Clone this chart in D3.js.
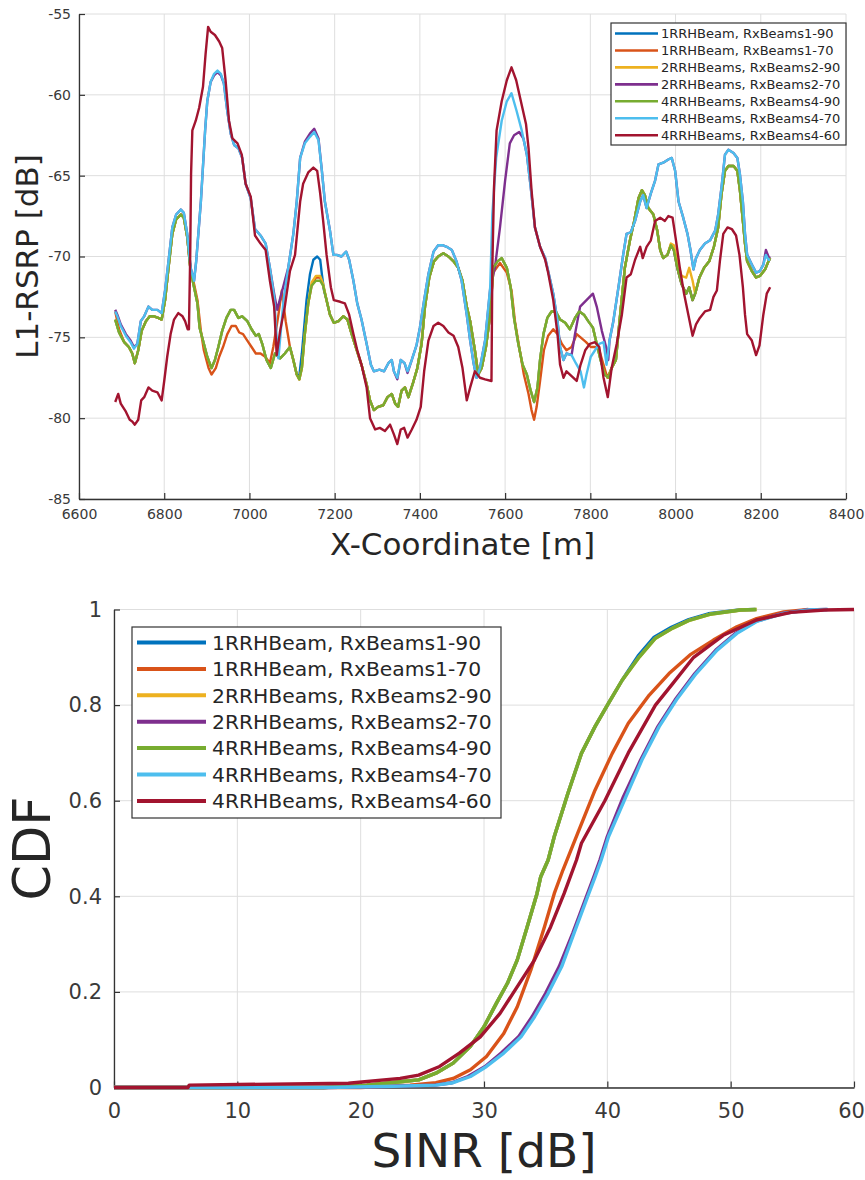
<!DOCTYPE html>
<html>
<head>
<meta charset="utf-8">
<script src="https://cdn.jsdelivr.net/npm/d3@7"></script>
<style>
  body { margin: 0; background: #fff; }
  svg { display: block; font-family: "DejaVu Sans", sans-serif; }
</style>
</head>
<body>
<svg id="chart" width="865" height="1180"></svg>
<script>
// legend names, in MATLAB plot order
var seriesNames = ["1RRHBeam, RxBeams1-90", "1RRHBeam, RxBeams1-70", "2RRHBeams, RxBeams2-90",
  "2RRHBeams, RxBeams2-70", "4RRHBeams, RxBeams4-90", "4RRHBeams, RxBeams4-70", "4RRHBeams, RxBeams4-60"];
var seriesColors = ["#0072BD", "#D95319", "#EDB120", "#7E2F8E", "#77AC30", "#4DBEEE", "#A2142F"];

// tick labels
var xTicksRsrp = [6600, 6800, 7000, 7200, 7400, 7600, 7800, 8000, 8200, 8400];
var yTicksRsrp = [-85, -80, -75, -70, -65, -60, -55];
var xTicksCdf = [0, 10, 20, 30, 40, 50, 60];
var yTicksCdf = [0, 0.2, 0.4, 0.6, 0.8, 1];

// L1-RSRP [dB] against X-coordinate [m]
var rsrpBeam4_90 = [[6685,-73.9],[6694,-74.7],[6706,-75.3],[6717,-75.6],[6725,-76.0],[6731,-76.6],[6739,-75.8],[6747,-74.6],[6757,-74.0],[6766,-73.7],[6776,-73.7],[6786,-73.8],[6794,-73.9],[6802,-72.7],[6810,-70.7],[6819,-68.6],[6828,-67.7],[6839,-67.4],[6846,-67.6],[6854,-68.8],[6862,-70.9],[6870,-71.9],[6878,-72.9],[6883,-74.4],[6891,-75.2],[6901,-76.2],[6911,-76.9],[6919,-76.4],[6927,-75.6],[6936,-74.6],[6946,-73.8],[6956,-73.3],[6964,-73.3],[6974,-73.8],[6983,-73.7],[6995,-74.0],[7005,-74.5],[7015,-74.9],[7022,-74.8],[7030,-75.4],[7040,-76.4],[7050,-76.9],[7060,-76.0],[7072,-76.3],[7083,-76.0],[7095,-75.6],[7103,-76.4],[7111,-77.3],[7117,-77.6],[7123,-76.9],[7130,-74.8],[7138,-72.9],[7146,-71.8],[7156,-71.5],[7166,-71.5],[7173,-71.8],[7181,-72.7],[7189,-73.6],[7198,-74.1],[7209,-74.0],[7220,-73.7],[7230,-73.9],[7240,-74.8],[7252,-75.8],[7263,-76.7],[7275,-77.9],[7283,-78.9],[7292,-79.5],[7302,-79.3],[7314,-79.2],[7324,-78.7],[7334,-78.5],[7342,-79.1],[7349,-79.3],[7357,-78.3],[7365,-78.1],[7373,-78.7],[7383,-77.9],[7394,-76.9],[7404,-75.4],[7412,-73.1],[7422,-71.3],[7433,-70.3],[7443,-70.0],[7455,-69.8],[7467,-70.0],[7479,-70.3],[7490,-70.7],[7500,-71.5],[7510,-73.1],[7518,-74.0],[7529,-75.8],[7537,-77.3],[7545,-76.9],[7555,-75.6],[7565,-73.6],[7572,-70.7],[7582,-70.3],[7592,-70.1],[7604,-70.7],[7613,-71.9],[7621,-73.8],[7631,-75.4],[7641,-76.7],[7651,-77.3],[7660,-78.3],[7668,-79.0],[7676,-78.1],[7682,-76.4],[7690,-74.8],[7699,-73.8],[7709,-73.4],[7719,-73.4],[7729,-73.9],[7741,-74.1],[7752,-74.5],[7764,-73.8],[7774,-73.4],[7785,-73.6],[7795,-74.0],[7806,-74.4],[7815,-75.4],[7824,-76.4],[7834,-77.3],[7842,-77.5],[7850,-76.9],[7860,-76.4],[7870,-73.6],[7881,-70.7],[7893,-69.0],[7903,-67.8],[7913,-66.4],[7921,-65.9],[7928,-66.2],[7936,-67.0],[7948,-67.4],[7957,-68.4],[7964,-69.6],[7971,-70.1],[7981,-69.9],[7989,-69.3],[7996,-69.6],[8004,-70.7],[8014,-71.7],[8025,-72.3],[8032,-71.9],[8040,-72.7],[8046,-72.3],[8056,-71.3],[8067,-70.7],[8079,-70.3],[8090,-69.4],[8100,-68.2],[8108,-66.1],[8116,-64.7],[8124,-64.4],[8136,-64.4],[8145,-64.7],[8151,-65.9],[8158,-67.8],[8163,-69.2],[8168,-70.3],[8179,-70.9],[8189,-71.3],[8198,-71.2],[8210,-70.8],[8218,-70.3],[8222,-70.1]];

var rsrpBeam1_90 = [[6685,-73.9],[6694,-74.7],[6706,-75.3],[6717,-75.6],[6725,-76.0],[6731,-76.6],[6739,-75.8],[6747,-74.6],[6757,-74.0],[6766,-73.7],[6776,-73.7],[6786,-73.8],[6794,-73.9],[6802,-72.7],[6810,-70.7],[6819,-68.6],[6828,-67.7],[6839,-67.4],[6846,-67.6],[6854,-68.8],[6862,-70.9],[6870,-71.9],[6878,-72.9],[6883,-74.4],[6891,-75.2],[6901,-76.2],[6911,-76.9],[6919,-76.4],[6927,-75.6],[6936,-74.6],[6946,-73.8],[6956,-73.3],[6964,-73.3],[6974,-73.8],[6983,-73.7],[6995,-74.0],[7005,-74.5],[7015,-74.9],[7022,-74.8],[7030,-75.4],[7040,-76.4],[7050,-76.9],[7060,-76.0],[7072,-76.3],[7083,-76.0],[7095,-75.6],[7103,-76.4],[7111,-77.3],[7117,-77.4],[7123,-76.0],[7127,-74.8],[7134,-72.7],[7142,-71.1],[7150,-70.2],[7159,-70.0],[7166,-70.2],[7170,-71.1],[7175,-72.1],[7181,-72.7],[7189,-73.6],[7198,-74.1],[7209,-74.0],[7220,-73.7],[7230,-73.9],[7240,-74.8],[7252,-75.8],[7263,-76.7],[7275,-77.9],[7283,-78.9],[7292,-79.5],[7302,-79.3],[7314,-79.2],[7324,-78.7],[7334,-78.5],[7342,-79.1],[7349,-79.3],[7357,-78.3],[7365,-78.1],[7373,-78.7],[7383,-77.9],[7394,-76.9],[7404,-75.4],[7412,-73.1],[7422,-71.3],[7433,-70.3],[7443,-70.0],[7455,-69.8],[7467,-70.0],[7479,-70.3],[7490,-70.7],[7500,-71.5],[7510,-73.1],[7518,-74.0],[7529,-75.8],[7537,-77.3],[7545,-76.9],[7555,-75.6],[7565,-73.6],[7572,-70.7],[7582,-70.3],[7592,-70.1],[7604,-70.7],[7613,-71.9],[7621,-73.8],[7631,-75.4],[7641,-76.7],[7651,-77.3],[7660,-78.3],[7668,-79.0],[7676,-78.1],[7682,-76.4],[7690,-74.8],[7699,-73.8],[7709,-73.4],[7719,-73.4],[7729,-73.9],[7741,-74.1],[7752,-74.5],[7764,-73.8],[7774,-73.4],[7785,-73.6],[7795,-74.0],[7806,-74.4],[7815,-75.4],[7824,-76.4],[7834,-77.3],[7842,-77.5],[7850,-76.9],[7860,-76.4],[7870,-73.6],[7881,-70.7],[7893,-69.0],[7903,-67.8],[7913,-66.4],[7921,-65.9],[7928,-66.2],[7936,-67.0],[7948,-67.4],[7957,-68.4],[7964,-69.6],[7971,-70.1],[7981,-69.9],[7989,-69.3],[7996,-69.6],[8004,-70.7],[8014,-71.7],[8025,-72.3],[8032,-71.9],[8040,-72.7],[8046,-72.3],[8056,-71.3],[8067,-70.7],[8079,-70.3],[8090,-69.4],[8100,-68.2],[8108,-66.1],[8116,-64.7],[8124,-64.4],[8136,-64.4],[8145,-64.7],[8151,-65.9],[8158,-67.8],[8163,-69.2],[8168,-70.3],[8179,-70.9],[8189,-71.3],[8198,-71.2],[8210,-70.8],[8218,-70.3],[8222,-70.1]];

var rsrpBeam1_70 = [[6685,-73.4],[6694,-74.5],[6706,-75.3],[6717,-75.6],[6725,-76.0],[6731,-76.6],[6739,-75.8],[6747,-74.6],[6757,-74.0],[6766,-73.7],[6776,-73.7],[6786,-73.8],[6794,-73.9],[6802,-72.7],[6810,-70.7],[6819,-68.6],[6828,-67.7],[6839,-67.4],[6846,-67.6],[6854,-68.8],[6862,-70.9],[6870,-71.7],[6878,-72.7],[6886,-74.6],[6893,-75.8],[6904,-76.9],[6911,-77.3],[6921,-76.9],[6929,-76.2],[6938,-75.6],[6948,-74.8],[6958,-74.3],[6968,-74.3],[6976,-74.7],[6985,-74.8],[6995,-75.2],[7005,-75.6],[7015,-76.0],[7026,-76.0],[7037,-76.2],[7048,-76.6],[7056,-75.6],[7068,-73.6],[7076,-72.1],[7085,-74.0],[7095,-75.6],[7103,-76.4],[7111,-77.3],[7117,-77.6],[7123,-76.9],[7130,-74.8],[7138,-72.9],[7146,-71.8],[7156,-71.3],[7166,-71.3],[7173,-71.8],[7181,-72.7],[7189,-73.6],[7198,-74.1],[7209,-74.0],[7220,-73.7],[7230,-73.9],[7240,-74.8],[7252,-75.8],[7263,-76.7],[7275,-77.9],[7283,-78.9],[7292,-79.5],[7302,-79.3],[7314,-79.2],[7324,-78.7],[7334,-78.5],[7342,-79.1],[7349,-79.3],[7357,-78.3],[7365,-78.1],[7373,-78.7],[7383,-77.9],[7394,-76.9],[7404,-75.4],[7412,-73.1],[7422,-71.3],[7433,-70.3],[7443,-70.0],[7455,-69.8],[7467,-70.0],[7479,-70.3],[7490,-70.7],[7500,-71.5],[7510,-73.1],[7518,-74.0],[7529,-75.8],[7537,-77.3],[7545,-76.9],[7555,-75.6],[7565,-73.6],[7572,-71.0],[7588,-70.4],[7604,-71.0],[7615,-72.1],[7623,-74.0],[7633,-75.6],[7644,-77.3],[7655,-78.5],[7662,-79.5],[7668,-80.1],[7674,-79.3],[7682,-77.7],[7691,-75.8],[7701,-74.9],[7713,-74.5],[7723,-74.8],[7733,-75.4],[7744,-75.8],[7756,-75.6],[7768,-74.8],[7777,-75.0],[7790,-75.3],[7801,-75.6],[7811,-75.6],[7821,-75.8],[7831,-76.7],[7840,-77.5],[7850,-76.9],[7860,-76.4],[7870,-73.6],[7881,-70.7],[7893,-69.0],[7903,-67.8],[7913,-66.4],[7921,-65.9],[7928,-66.2],[7936,-67.0],[7948,-67.4],[7957,-68.4],[7964,-69.6],[7971,-70.1],[7981,-69.9],[7989,-69.3],[7996,-69.6],[8004,-70.7],[8014,-71.7],[8025,-72.3],[8032,-71.9],[8040,-72.7],[8046,-72.3],[8056,-71.3],[8067,-70.7],[8079,-70.3],[8090,-69.4],[8100,-68.2],[8108,-66.1],[8116,-64.7],[8124,-64.4],[8136,-64.4],[8145,-64.7],[8151,-65.9],[8158,-67.8],[8163,-69.2],[8168,-70.3],[8179,-70.9],[8189,-71.3],[8198,-71.2],[8210,-70.8],[8218,-70.3],[8222,-70.1]];

var rsrpBeam2_90 = [[6685,-73.9],[6694,-74.7],[6706,-75.3],[6717,-75.6],[6725,-76.0],[6731,-76.6],[6739,-75.8],[6747,-74.6],[6757,-74.0],[6766,-73.7],[6776,-73.7],[6786,-73.8],[6794,-73.9],[6802,-72.7],[6810,-70.7],[6819,-68.6],[6828,-67.7],[6839,-67.4],[6846,-67.6],[6854,-68.8],[6862,-70.9],[6870,-71.9],[6878,-72.9],[6883,-74.4],[6891,-75.2],[6901,-76.2],[6911,-76.9],[6919,-76.4],[6927,-75.6],[6936,-74.6],[6946,-73.8],[6956,-73.3],[6964,-73.3],[6974,-73.8],[6983,-73.7],[6995,-74.0],[7005,-74.5],[7015,-74.9],[7022,-74.8],[7030,-75.4],[7040,-76.4],[7050,-76.9],[7060,-76.0],[7072,-76.3],[7083,-76.0],[7095,-75.6],[7103,-76.4],[7111,-77.3],[7117,-77.6],[7123,-76.9],[7130,-74.8],[7138,-72.9],[7146,-71.6],[7156,-71.2],[7166,-71.2],[7173,-71.7],[7181,-72.7],[7189,-73.6],[7198,-74.1],[7209,-74.0],[7220,-73.7],[7230,-73.9],[7240,-74.8],[7252,-75.8],[7263,-76.7],[7275,-77.9],[7283,-78.9],[7292,-79.5],[7302,-79.3],[7314,-79.2],[7324,-78.7],[7334,-78.5],[7342,-79.1],[7349,-79.3],[7357,-78.3],[7365,-78.1],[7373,-78.7],[7383,-77.9],[7394,-76.9],[7404,-75.4],[7412,-73.1],[7422,-71.3],[7433,-70.3],[7443,-70.0],[7455,-69.8],[7467,-70.0],[7479,-70.3],[7490,-70.7],[7500,-71.5],[7510,-73.1],[7518,-74.0],[7529,-75.8],[7537,-77.3],[7545,-76.9],[7555,-75.6],[7565,-73.6],[7572,-70.7],[7582,-70.3],[7592,-70.1],[7604,-70.7],[7613,-71.9],[7621,-73.8],[7631,-75.4],[7641,-76.7],[7651,-77.3],[7660,-78.3],[7668,-79.0],[7676,-78.1],[7682,-76.4],[7690,-74.8],[7699,-73.8],[7709,-73.4],[7719,-73.4],[7729,-73.9],[7741,-74.1],[7752,-74.5],[7764,-73.8],[7774,-73.4],[7785,-73.6],[7795,-74.0],[7806,-74.4],[7815,-75.4],[7824,-76.4],[7834,-77.3],[7842,-77.5],[7850,-76.9],[7860,-76.4],[7870,-73.6],[7881,-70.7],[7893,-69.0],[7903,-67.8],[7913,-66.4],[7921,-65.9],[7928,-66.2],[7936,-67.0],[7948,-67.4],[7957,-68.4],[7964,-69.6],[7971,-70.1],[7981,-69.9],[7989,-69.2],[7996,-69.3],[8004,-70.3],[8014,-71.2],[8025,-71.3],[8032,-70.7],[8040,-71.5],[8046,-72.3],[8056,-71.3],[8067,-70.7],[8079,-70.3],[8090,-69.4],[8100,-68.2],[8108,-66.1],[8116,-64.7],[8124,-64.4],[8136,-64.4],[8145,-64.7],[8151,-65.9],[8158,-67.8],[8163,-69.2],[8168,-70.3],[8179,-70.9],[8189,-71.3],[8198,-71.2],[8210,-70.8],[8218,-70.3],[8222,-70.1]];

var rsrpBeam4_70 = [[6685,-73.4],[6690,-73.7],[6698,-74.3],[6710,-74.9],[6721,-75.3],[6729,-75.7],[6737,-75.4],[6745,-74.0],[6753,-73.7],[6763,-73.1],[6772,-73.3],[6784,-73.3],[6794,-73.5],[6802,-72.1],[6810,-70.3],[6819,-68.2],[6828,-67.4],[6839,-67.1],[6846,-67.3],[6854,-68.6],[6862,-70.7],[6870,-71.5],[6875,-70.3],[6886,-66.6],[6896,-62.2],[6901,-60.4],[6909,-59.2],[6917,-58.7],[6925,-58.5],[6933,-58.7],[6940,-59.3],[6948,-61.0],[6956,-62.4],[6964,-63.1],[6974,-63.3],[6983,-63.9],[6991,-65.5],[7003,-66.4],[7013,-68.3],[7026,-68.7],[7038,-69.2],[7048,-70.7],[7058,-72.5],[7064,-75.0],[7068,-76.3],[7074,-74.5],[7080,-72.7],[7091,-70.7],[7103,-68.6],[7111,-66.6],[7119,-63.9],[7130,-63.0],[7142,-62.6],[7152,-62.3],[7162,-62.8],[7170,-64.7],[7177,-66.6],[7189,-68.4],[7197,-69.9],[7205,-69.9],[7216,-70.0],[7227,-69.7],[7234,-70.2],[7244,-71.5],[7253,-72.9],[7263,-73.9],[7275,-75.4],[7285,-76.7],[7292,-77.1],[7305,-77.0],[7316,-77.1],[7326,-76.6],[7334,-76.4],[7339,-77.1],[7347,-77.5],[7355,-76.4],[7364,-76.6],[7371,-77.1],[7381,-76.4],[7392,-75.5],[7400,-74.4],[7410,-72.7],[7420,-71.1],[7432,-69.7],[7443,-69.3],[7453,-69.3],[7463,-69.4],[7475,-69.6],[7486,-70.3],[7498,-71.5],[7510,-73.6],[7518,-75.2],[7526,-76.6],[7533,-77.5],[7541,-76.9],[7553,-75.2],[7565,-71.9],[7570,-67.4],[7579,-63.9],[7592,-61.6],[7604,-60.4],[7615,-59.9],[7627,-61.0],[7639,-62.2],[7651,-63.7],[7660,-65.7],[7670,-68.2],[7682,-69.4],[7694,-70.1],[7701,-70.9],[7713,-72.3],[7723,-74.0],[7729,-75.6],[7737,-76.4],[7744,-76.0],[7756,-76.1],[7766,-76.6],[7777,-77.1],[7785,-78.1],[7791,-77.3],[7801,-76.2],[7811,-75.8],[7821,-75.4],[7831,-75.3],[7838,-76.7],[7845,-75.2],[7854,-74.0],[7866,-71.9],[7877,-69.9],[7885,-68.6],[7895,-68.5],[7905,-67.8],[7917,-66.6],[7924,-66.2],[7932,-67.0],[7942,-66.1],[7952,-65.3],[7960,-64.3],[7971,-64.2],[7983,-64.0],[7991,-63.9],[7999,-64.7],[8007,-66.6],[8018,-67.6],[8028,-68.6],[8035,-69.6],[8042,-70.8],[8048,-70.1],[8057,-69.6],[8069,-69.2],[8081,-69.0],[8093,-68.4],[8100,-67.4],[8108,-65.7],[8116,-63.7],[8124,-63.4],[8136,-63.6],[8145,-63.9],[8151,-64.9],[8158,-66.6],[8163,-68.6],[8168,-69.9],[8179,-70.5],[8189,-71.0],[8198,-70.9],[8206,-70.5],[8212,-69.9],[8218,-70.2],[8222,-70.2]];

var rsrpBeam2_70 = [[6685,-73.3],[6690,-73.6],[6698,-74.2],[6710,-74.8],[6721,-75.2],[6729,-75.6],[6737,-75.4],[6745,-74.0],[6753,-73.7],[6763,-73.1],[6772,-73.3],[6784,-73.3],[6794,-73.5],[6802,-72.1],[6810,-70.3],[6819,-68.2],[6828,-67.4],[6839,-67.1],[6846,-67.3],[6854,-68.6],[6862,-70.7],[6870,-71.5],[6875,-70.3],[6886,-66.6],[6896,-62.2],[6901,-60.4],[6909,-59.2],[6917,-58.8],[6925,-58.6],[6933,-58.8],[6940,-59.3],[6948,-61.0],[6956,-62.4],[6964,-63.1],[6974,-63.3],[6983,-63.9],[6991,-65.5],[7003,-66.4],[7013,-68.3],[7026,-68.7],[7038,-69.2],[7048,-70.7],[7058,-72.3],[7065,-73.3],[7072,-72.6],[7080,-71.8],[7091,-70.7],[7103,-68.6],[7111,-66.6],[7119,-63.9],[7130,-62.9],[7142,-62.4],[7152,-62.1],[7162,-62.7],[7170,-64.7],[7177,-66.6],[7189,-68.4],[7197,-69.9],[7205,-69.9],[7216,-70.0],[7227,-69.7],[7234,-70.2],[7244,-71.5],[7253,-72.9],[7263,-73.9],[7275,-75.4],[7285,-76.7],[7292,-77.1],[7305,-77.0],[7316,-77.1],[7326,-76.6],[7334,-76.4],[7339,-77.1],[7347,-77.6],[7355,-76.4],[7364,-76.6],[7371,-77.2],[7381,-76.4],[7392,-75.5],[7400,-74.4],[7410,-72.7],[7420,-71.1],[7432,-69.7],[7443,-69.3],[7453,-69.3],[7463,-69.4],[7475,-69.6],[7486,-70.3],[7498,-71.5],[7510,-73.6],[7518,-75.2],[7526,-76.6],[7533,-77.5],[7541,-76.9],[7553,-75.2],[7565,-72.0],[7576,-70.7],[7588,-68.2],[7600,-65.3],[7611,-63.0],[7621,-62.5],[7633,-62.3],[7643,-62.7],[7651,-63.7],[7660,-65.7],[7670,-68.2],[7682,-69.4],[7694,-70.1],[7701,-70.9],[7713,-72.3],[7723,-74.0],[7729,-75.6],[7737,-76.4],[7744,-76.0],[7756,-76.1],[7764,-74.8],[7776,-73.1],[7791,-72.7],[7806,-72.3],[7815,-73.1],[7827,-74.6],[7837,-75.6],[7842,-76.4],[7845,-75.2],[7854,-74.0],[7866,-71.9],[7877,-69.9],[7885,-68.6],[7895,-68.5],[7905,-67.8],[7917,-66.6],[7924,-66.2],[7932,-67.0],[7942,-66.1],[7952,-65.3],[7960,-64.3],[7971,-64.2],[7983,-64.0],[7991,-63.9],[7999,-64.7],[8007,-66.6],[8018,-67.6],[8028,-68.6],[8035,-69.6],[8042,-70.8],[8048,-70.1],[8057,-69.6],[8069,-69.2],[8081,-69.0],[8093,-68.4],[8100,-67.4],[8108,-65.7],[8116,-63.7],[8124,-63.4],[8136,-63.6],[8145,-63.9],[8151,-64.9],[8158,-66.6],[8163,-68.6],[8168,-69.9],[8179,-70.5],[8189,-71.0],[8198,-70.9],[8206,-70.5],[8212,-69.6],[8218,-70.0],[8222,-70.1]];

var rsrpBeam4_60 = [[6685,-79.0],[6692,-78.5],[6698,-79.1],[6710,-79.6],[6719,-80.1],[6725,-80.2],[6731,-80.4],[6739,-80.1],[6746,-78.9],[6753,-78.7],[6763,-78.1],[6772,-78.3],[6784,-78.4],[6794,-78.9],[6800,-77.7],[6807,-76.2],[6815,-74.8],[6823,-73.9],[6833,-73.5],[6843,-73.7],[6849,-74.0],[6855,-74.5],[6858,-74.5],[6861,-69.9],[6863,-64.9],[6866,-62.2],[6874,-61.6],[6882,-60.8],[6891,-59.5],[6897,-57.5],[6903,-55.8],[6909,-56.1],[6919,-56.3],[6929,-56.7],[6936,-57.1],[6944,-59.1],[6952,-61.6],[6960,-62.7],[6972,-63.0],[6982,-63.7],[6991,-65.5],[7003,-66.3],[7013,-68.7],[7026,-69.2],[7038,-69.6],[7048,-71.5],[7058,-73.1],[7064,-76.1],[7072,-74.6],[7083,-73.1],[7095,-70.9],[7107,-69.9],[7119,-66.6],[7126,-65.5],[7138,-64.8],[7150,-64.5],[7159,-64.7],[7166,-66.1],[7173,-67.8],[7181,-69.9],[7191,-71.9],[7198,-72.7],[7213,-72.8],[7224,-72.9],[7234,-73.6],[7244,-74.8],[7253,-75.8],[7263,-76.7],[7275,-78.1],[7283,-80.0],[7295,-80.7],[7306,-80.6],[7318,-80.8],[7330,-80.4],[7339,-81.0],[7347,-81.6],[7355,-80.7],[7363,-80.6],[7371,-81.2],[7381,-80.7],[7392,-80.1],[7402,-79.3],[7410,-77.1],[7420,-75.2],[7432,-74.3],[7443,-74.1],[7455,-74.3],[7467,-74.7],[7479,-74.9],[7490,-75.6],[7500,-76.9],[7510,-78.9],[7518,-78.1],[7529,-77.1],[7541,-77.5],[7553,-77.6],[7568,-77.7],[7570,-70.7],[7574,-65.7],[7580,-62.2],[7592,-60.4],[7604,-59.1],[7615,-58.3],[7626,-59.1],[7637,-60.4],[7649,-61.8],[7655,-63.3],[7662,-65.9],[7670,-68.2],[7682,-69.4],[7694,-70.2],[7701,-71.0],[7713,-72.7],[7723,-74.8],[7729,-76.7],[7737,-77.5],[7744,-77.1],[7756,-77.4],[7768,-77.7],[7777,-76.7],[7788,-75.8],[7799,-75.4],[7811,-75.3],[7821,-75.6],[7831,-77.5],[7841,-78.7],[7850,-76.9],[7862,-75.4],[7874,-73.6],[7885,-71.3],[7895,-71.1],[7905,-70.2],[7917,-69.4],[7923,-70.1],[7932,-69.4],[7942,-69.0],[7952,-67.8],[7964,-67.6],[7975,-67.8],[7983,-67.5],[7993,-67.6],[8001,-69.0],[8010,-70.7],[8020,-72.3],[8030,-73.6],[8040,-74.9],[8048,-74.2],[8057,-73.8],[8069,-73.4],[8081,-73.3],[8089,-72.5],[8097,-72.1],[8104,-70.3],[8112,-68.6],[8122,-68.2],[8132,-68.3],[8142,-68.7],[8150,-69.9],[8158,-71.9],[8163,-73.6],[8168,-74.8],[8179,-75.2],[8189,-76.1],[8197,-75.5],[8206,-73.6],[8214,-72.3],[8222,-71.9]];

// CDF against SINR [dB]
var cdfBeam1_90 = [[0,0],[17,0],[20.5,0.005],[23.2,0.012],[24.7,0.016],[26.1,0.03],[27.5,0.051],[28.9,0.086],[30,0.127],[31,0.176],[31.9,0.218],[32.7,0.267],[33.5,0.336],[34.3,0.406],[34.6,0.441],[35.2,0.476],[35.7,0.525],[36.8,0.615],[37.9,0.699],[39,0.755],[40.1,0.804],[41.2,0.852],[42.5,0.903],[43.8,0.942],[45.2,0.963],[46.6,0.979],[48.2,0.991],[50.7,0.999],[52,1]];
var cdfBeam1_70 = [[0,0],[20,0],[24,0.005],[26.1,0.01],[27.5,0.019],[28.9,0.037],[30.2,0.065],[31.6,0.113],[32.7,0.169],[33.8,0.246],[34.9,0.336],[35.7,0.406],[36.4,0.455],[37.6,0.532],[39,0.622],[40.4,0.699],[41.7,0.762],[43.4,0.821],[45,0.866],[46.7,0.905],[48.6,0.936],[50.5,0.964],[52.1,0.981],[54.3,0.995],[56.3,1]];
var cdfBeam2_90 = [[0,0],[17,0],[20.5,0.005],[23.2,0.012],[24.7,0.016],[26.1,0.03],[27.5,0.051],[28.9,0.086],[30,0.127],[31,0.176],[31.9,0.218],[32.7,0.267],[33.5,0.336],[34.3,0.406],[34.6,0.441],[35.2,0.476],[35.7,0.525],[36.8,0.615],[37.9,0.699],[39,0.755],[40.1,0.804],[41.2,0.852],[42.6,0.901],[43.9,0.94],[45.3,0.961],[46.7,0.978],[48.3,0.99],[50.8,0.999],[52.1,1]];
var cdfBeam2_70 = [[0,0],[17,0],[22,0.002],[26,0.005],[27.4,0.01],[28.7,0.023],[30.1,0.044],[31.4,0.072],[32.8,0.106],[33.9,0.148],[35,0.197],[36.1,0.253],[37.2,0.323],[38.3,0.399],[38.9,0.44],[39.4,0.476],[40,0.525],[41.3,0.608],[42.7,0.685],[44.1,0.755],[45.5,0.811],[47.1,0.866],[48.8,0.915],[50.4,0.95],[52,0.975],[54.2,0.992],[56.2,0.999],[57.8,1]];
var cdfBeam4_90 = [[0,0],[17,0],[20.5,0.005],[23.2,0.012],[24.7,0.016],[26.1,0.03],[27.5,0.051],[28.9,0.086],[30,0.127],[31,0.176],[31.9,0.218],[32.7,0.267],[33.5,0.336],[34.3,0.406],[34.6,0.441],[35.2,0.476],[35.7,0.525],[36.8,0.615],[37.9,0.699],[39,0.755],[40.1,0.804],[41.2,0.852],[42.6,0.901],[43.9,0.94],[45.3,0.961],[46.7,0.978],[48.3,0.99],[50.8,0.999],[52.1,1]];
var cdfBeam4_70 = [[0,0],[17,0],[22,0.002],[26.1,0.005],[27.5,0.01],[28.9,0.023],[30.2,0.044],[31.6,0.072],[33,0.106],[34.1,0.148],[35.2,0.197],[36.3,0.253],[37.3,0.323],[38.4,0.399],[39,0.44],[39.5,0.476],[40.1,0.525],[41.5,0.608],[42.8,0.685],[44.2,0.755],[45.6,0.811],[47.2,0.866],[48.9,0.915],[50.5,0.95],[52.1,0.975],[54.3,0.992],[56.3,0.999],[57.9,1]];
var cdfBeam4_60 = [[0,0],[6,0],[6.1,0.005],[19,0.009],[23.2,0.019],[24.7,0.026],[26.4,0.044],[28,0.072],[29.7,0.106],[31.3,0.155],[32.7,0.211],[34.1,0.267],[35.4,0.336],[36.5,0.406],[37.5,0.476],[37.9,0.511],[39.8,0.6],[41.7,0.7],[43.9,0.8],[45.3,0.845],[47,0.9],[49.4,0.946],[52.1,0.978],[54.9,0.994],[57.6,0.999],[60,1]];

var rsrpSeries = [rsrpBeam1_90, rsrpBeam1_70, rsrpBeam2_90, rsrpBeam2_70, rsrpBeam4_90, rsrpBeam4_70, rsrpBeam4_60];
var cdfSeries = [cdfBeam1_90, cdfBeam1_70, cdfBeam2_90, cdfBeam2_70, cdfBeam4_90, cdfBeam4_70, cdfBeam4_60];

var svg = d3.select("#chart");
var gridColor = "#dedede", axisColor = "#333", textColor = "#262626";

function drawPanel(p) {
  var g = svg.append("g");
  var x0 = p.x.range()[0], x1 = p.x.range()[1];
  var y0 = p.y.range()[0], y1 = p.y.range()[1];

  // grid
  g.append("g").selectAll("line").data(p.xTicks).enter().append("line")
    .attr("x1", function(d) { return p.x(d); }).attr("x2", function(d) { return p.x(d); })
    .attr("y1", y0).attr("y2", y1)
    .attr("stroke", gridColor).attr("stroke-width", 1);
  g.append("g").selectAll("line").data(p.yTicks).enter().append("line")
    .attr("y1", function(d) { return p.y(d); }).attr("y2", function(d) { return p.y(d); })
    .attr("x1", x0).attr("x2", x1)
    .attr("stroke", gridColor).attr("stroke-width", 1);

  // axes, ticks pointing inwards like matlab
  var gx = g.append("g").attr("transform", "translate(0," + y0 + ")")
    .call(d3.axisBottom(p.x).tickValues(p.xTicks).tickFormat(function(d) { return String(d); })
      .tickSizeInner(-p.tick).tickSizeOuter(0).tickPadding(p.xPad));
  var gy = g.append("g").attr("transform", "translate(" + x0 + ",0)")
    .call(d3.axisLeft(p.y).tickValues(p.yTicks).tickFormat(function(d) { return String(d); })
      .tickSizeInner(-p.tick).tickSizeOuter(0).tickPadding(p.yPad));
  [gx, gy].forEach(function(a) {
    a.select(".domain").attr("stroke", axisColor).attr("stroke-width", 1.3);
    a.selectAll(".tick line").attr("stroke", axisColor).attr("stroke-width", 1.2);
    a.selectAll(".tick text").attr("fill", "#3a3a3a")
      .style("font-family", '"DejaVu Sans", sans-serif').style("font-size", p.tickFont + "px");
  });
  // last x label sits at the right edge of the page; nudge it in a little
  gx.selectAll(".tick text").filter(function(d, i, n) { return i === n.length - 1; })
    .attr("dx", -p.lastNudge);

  // series
  var line = d3.line()
    .x(function(d) { return p.x(d[0]); })
    .y(function(d) { return p.y(d[1]); });
  g.append("g").selectAll("path").data(p.series).enter().append("path")
    .attr("d", function(d) { return line(d); })
    .attr("fill", "none")
    .attr("stroke", function(d, i) { return seriesColors[i]; })
    .attr("stroke-width", p.lw)
    .attr("stroke-linejoin", "round");

  // axis labels
  g.append("text").attr("x", (x0 + x1) / 2).attr("y", p.xLabelY)
    .attr("text-anchor", "middle").attr("fill", textColor)
    .style("font-size", p.xLabelFont + "px").text(p.xLabel);
  g.append("text")
    .attr("transform", "translate(" + p.yLabelX + "," + (y0 + y1) / 2 + ") rotate(-90)")
    .attr("text-anchor", "middle").attr("fill", textColor)
    .style("font-size", p.yLabelFont + "px").text(p.yLabel);

  // legend
  var L = p.legend;
  var lg = g.append("g");
  lg.append("rect").attr("x", L.x).attr("y", L.y).attr("width", L.w).attr("height", L.h)
    .attr("fill", "#fff").attr("stroke", "#333").attr("stroke-width", 1.2);
  var item = lg.selectAll("g.item").data(seriesNames).enter().append("g").attr("class", "item")
    .attr("transform", function(d, i) { return "translate(0," + (L.first + i * L.step) + ")"; });
  item.append("line").attr("x1", L.lx1).attr("x2", L.lx2).attr("y1", 0).attr("y2", 0)
    .attr("stroke", function(d, i) { return seriesColors[i]; }).attr("stroke-width", L.lw);
  item.append("text").attr("x", L.tx).attr("y", 0).attr("dy", "0.36em")
    .attr("fill", textColor).style("font-size", L.font + "px")
    .text(function(d) { return d; });
}

drawPanel({
  x: d3.scaleLinear().domain([6600, 8400]).range([79, 846]),
  y: d3.scaleLinear().domain([-85, -55]).range([499, 14]),
  xTicks: xTicksRsrp, yTicks: yTicksRsrp,
  tick: 6, xPad: 10.5, yPad: 8, tickFont: 14, lastNudge: 0,
  series: rsrpSeries, lw: 2.4,
  xLabel: "X-Coordinate [m]", xLabelY: 555, xLabelFont: 31,
  yLabel: "L1-RSRP [dB]", yLabelX: 38, yLabelFont: 31,
  legend: { x: 611, y: 23, w: 235, h: 122, first: 33.5, step: 16.95,
            lx1: 615, lx2: 658, tx: 661, lw: 2.6, font: 13 }
});

drawPanel({
  x: d3.scaleLinear().domain([0, 60]).range([114, 854]),
  y: d3.scaleLinear().domain([0, 1]).range([1087.5, 609.5]),
  xTicks: xTicksCdf, yTicks: yTicksCdf,
  tick: 6, xPad: 15.5, yPad: 12, tickFont: 21, lastNudge: 3,
  series: cdfSeries, lw: 3.4,
  xLabel: "SINR [dB]", xLabelY: 1167, xLabelFont: 47,
  yLabel: "CDF", yLabelX: 50, yLabelFont: 51,
  legend: { x: 132, y: 627, w: 369, h: 191, first: 642.5, step: 26.4,
            lx1: 137, lx2: 206, tx: 212, lw: 4, font: 20.3 }
});
</script>
</body>
</html>
